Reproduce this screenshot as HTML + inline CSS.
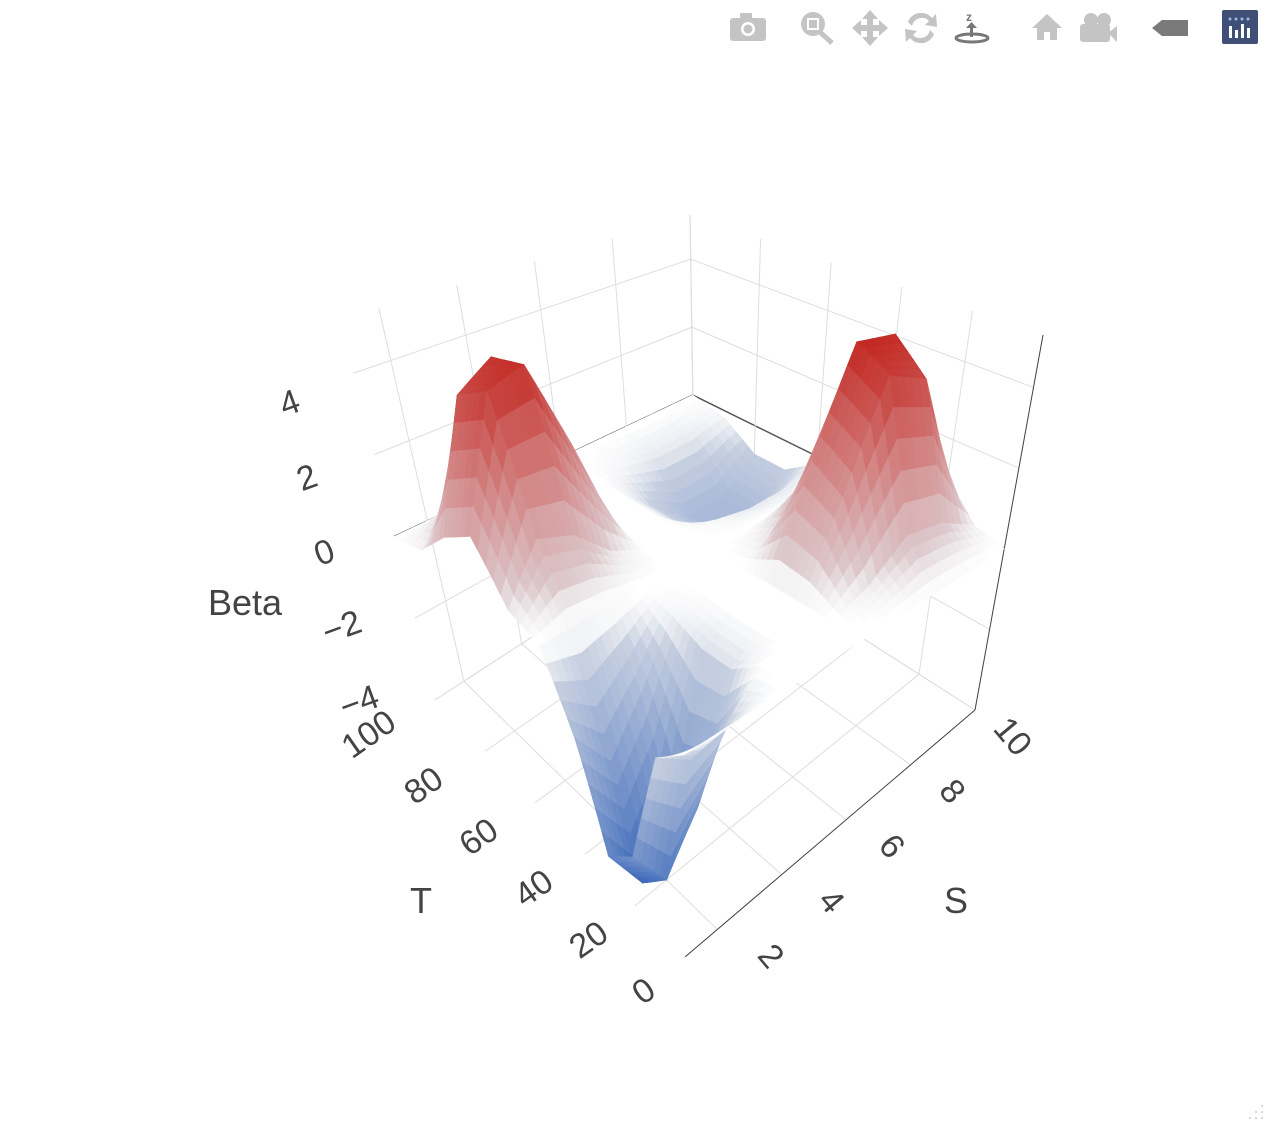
<!DOCTYPE html>
<html><head><meta charset="utf-8"><style>
body{margin:0;background:#fff;width:1268px;height:1122px;overflow:hidden;font-family:"Liberation Sans",sans-serif}
svg{position:absolute;left:0;top:0}
</style></head><body>
<svg width="1268" height="1122">
<g fill="#c4c4c4">
 <g><rect x="730" y="18" width="36" height="23" rx="3"/><rect x="740" y="13" width="12" height="6"/><circle cx="748" cy="29" r="7" fill="#fff"/><circle cx="748" cy="29" r="4.5"/></g>
 <g><circle cx="813" cy="24" r="12"/><rect x="807" y="18" width="12" height="12" fill="#fff"/><rect x="809" y="20" width="8" height="8"/><path d="M820 32 L832 43" stroke="#c4c4c4" stroke-width="5"/></g>
 <g><path d="M870 10 L878 19 L873 19 L873 25 L879 25 L879 20 L888 28 L879 36 L879 31 L873 31 L873 37 L878 37 L870 46 L862 37 L867 37 L867 31 L861 31 L861 36 L852 28 L861 20 L861 25 L867 25 L867 19 L862 19Z"/></g>
 <g><path d="M908 22 A14 14 0 0 1 932 18 L936 14 L937 27 L925 25 L929 21 A10 10 0 0 0 912 26Z"/><path d="M934 34 A14 14 0 0 1 910 38 L906 42 L905 29 L917 31 L913 35 A10 10 0 0 0 930 30Z"/></g>
 <g fill="#777"><text x="966" y="21" font-size="12" font-weight="bold">z</text><rect x="970" y="25" width="3" height="12"/><path d="M966 28 L971.5 22 L977 28Z"/><ellipse cx="972" cy="38" rx="16" ry="4" fill="none" stroke="#777" stroke-width="3"/></g>
 <g><path d="M1032 28 L1047 14 L1062 28 L1057 28 L1057 40 L1050 40 L1050 32 L1044 32 L1044 40 L1037 40 L1037 28Z"/></g>
 <g><circle cx="1091" cy="20" r="7"/><circle cx="1104" cy="20" r="7"/><rect x="1080" y="24" width="30" height="18" rx="3"/><path d="M1108 33 L1117 26 L1117 42Z"/></g>
 <g fill="#7a7a7a"><path d="M1152 28 L1162 20 L1188 20 L1188 36 L1162 36Z"/></g>
 <g><rect x="1222" y="10" width="36" height="34" rx="2" fill="#3f4f75"/><g fill="#fff"><rect x="1229" y="26" width="3" height="12"/><rect x="1235" y="30" width="3" height="8"/><rect x="1241" y="24" width="3" height="14"/><rect x="1247" y="28" width="3" height="10"/></g><g fill="#9bd"><circle cx="1230" cy="19" r="1.5"/><circle cx="1236" cy="19" r="1.5"/><circle cx="1242" cy="19" r="1.5"/><circle cx="1248" cy="19" r="1.5"/></g></g>
</g>
<g id="grid"></g>
<g id="surf"></g>
<g id="labels" font-size="34" fill="#444"></g>
<text x="208" y="615" font-size="36" fill="#444">Beta</text>
<text x="410" y="913" font-size="36" fill="#444">T</text>
<text x="944" y="913" font-size="36" fill="#444">S</text>
<g fill="#ccc"><circle cx="1262" cy="1118" r="1"/><circle cx="1256" cy="1118" r="1"/><circle cx="1250" cy="1118" r="1"/><circle cx="1262" cy="1112" r="1"/><circle cx="1256" cy="1112" r="1"/><circle cx="1262" cy="1106" r="1"/></g>
</svg>
<script>
const sValues=[1,2,3,4,5,6,7,8,9,10];
const tValues=[0,10,20,30,40,50,60,70,80,90,100];
const betaRows=[
[0,0,0,0,0,0,0,0,0,0],
[-0.5,-1,-0.8,0,0,0,0.3,1,0.8,0.2],
[-3,-4,-3,-0.5,0,0,2,4.5,4,1],
[-3.5,-4.6,-3.5,-0.5,0,0,2.5,5,4.8,1.5],
[-1.5,-2.5,-1.5,-0.2,0,0,0.5,1.5,1.2,0.3],
[0,0,0,0,0,0,0,0,0,0],
[0.3,1.5,1.2,0.4,0,0,-0.2,-0.4,-0.4,-0.2],
[1.5,4.5,4.8,2.5,0,0,-0.8,-1.5,-1.5,-0.8],
[1,4,4.6,2,0,0,-0.8,-1.5,-1.5,-0.8],
[0.2,0.8,1,0.3,0,0,-0.2,-0.4,-0.4,-0.2],
[0,0,0,0,0,0,0,0,0,0]];
const sTicks=[2,4,6,8,10];
const tTicks=[0,20,40,60,80,100];
const zTicks=[-4,-2,0,2,4];
const zTickLabels=["\u22124","\u22122","0","2","4"];

const S0=1,S1=10,T0=0,T1=100,Z0=-4,Z1=5.3;
const B={f:[685,957],r:[975,710],l:[435,700],b:[695,531]};
const U={f:[683,487],r:[1043,335],l:[340,320],b:[690,215]};
function bil(C,u,v,i){return (1-u)*(1-v)*C.f[i]+u*(1-v)*C.r[i]+(1-u)*v*C.l[i]+u*v*C.b[i];}
function P(s,t,z){const u=(s-S0)/(S1-S0),v=(t-T0)/(T1-T0),w=(z-Z0)/(Z1-Z0);
 return [0,1].map(i=>bil(B,u,v,i)*(1-w)+bil(U,u,v,i)*w);}
const NS="http://www.w3.org/2000/svg";
function line(g,a,b,col,wd,name){const e=document.createElementNS(NS,'line');
 e.setAttribute('x1',a[0]);e.setAttribute('y1',a[1]);e.setAttribute('x2',b[0]);e.setAttribute('y2',b[1]);
 e.setAttribute('stroke',col);e.setAttribute('stroke-width',wd);
 
 
 g.appendChild(e);}
const G=document.getElementById('grid');
zTicks.forEach(z=>{const c=z===0?'#555':'#ddd';const w=z===0?1.5:1;
 line(G,P(S0,T1,z),P(S1,T1,z),c,w,'z-gridline');line(G,P(S1,T1,z),P(S1,T0,z),c,w,'z-gridline');});
sTicks.forEach(s=>{line(G,P(s,T1,Z0),P(s,T1,Z1),'#ddd',1,'s-gridline');line(G,P(s,T0,Z0),P(s,T1,Z0),'#ddd',1,'s-gridline');});
tTicks.forEach(t=>{line(G,P(S1,t,Z0),P(S1,t,Z1),'#ddd',1,'t-gridline');line(G,P(S0,t,Z0),P(S1,t,Z0),'#ddd',1,'t-gridline');});
line(G,P(S1,T1,Z0),P(S1,T1,Z1),'#ddd',1,'back-edge');
line(G,P(S0,T0,Z0),P(S1,T0,Z0),'#444',1,'s-axis-line');
line(G,P(S1,T0,Z0),P(S1,T0,Z1),'#444',1,'z-axis-line');
function col(z){const g=[225,227,232];let a,t;
 if(Math.abs(z)<0.05)return null;
 const k=Math.min(1,Math.abs(z)/0.7);
 if(z<0){a=[60,105,185];t=Math.min(1,-z/4.5);}else{a=[195,38,32];t=Math.min(1,z/5);}
 let c=g.map((v,i)=>v+(a[i]-v)*t);c=c.map(v=>255+(v-255)*k);
 return 'rgb('+c.map(Math.round).join(',')+')';}
function zAt(i,j,a,b){const z00=betaRows[j][i],z10=betaRows[j][i+1],z01=betaRows[j+1][i],z11=betaRows[j+1][i+1];
 return (1-a)*(1-b)*z00+a*(1-b)*z10+(1-a)*b*z01+a*b*z11;}
const quads=[];const N=5;
for(let j=0;j<tValues.length-1;j++)for(let i=0;i<sValues.length-1;i++)for(let q=0;q<N;q++)for(let p=0;p<N;p++){
 const a0=p/N,a1=(p+1)/N,b0=q/N,b1=(q+1)/N;
 const sA=sValues[i]+(sValues[i+1]-sValues[i])*a0,sB=sValues[i]+(sValues[i+1]-sValues[i])*a1;
 const tA=tValues[j]+(tValues[j+1]-tValues[j])*b0,tB=tValues[j]+(tValues[j+1]-tValues[j])*b1;
 const zs=[zAt(i,j,a0,b0),zAt(i,j,a1,b0),zAt(i,j,a1,b1),zAt(i,j,a0,b1)];
 const pts=[P(sA,tA,zs[0]),P(sB,tA,zs[1]),P(sB,tB,zs[2]),P(sA,tB,zs[3])];
 const zm=(zs[0]+zs[1]+zs[2]+zs[3])/4;
 const depth=(sA+sB)/2/(S1-S0)+(tA+tB)/2/(T1-T0);
 quads.push({pts,zm,depth});}
quads.sort((x,y)=>y.depth-x.depth);
const SG=document.getElementById('surf');
quads.forEach(qd=>{const c=col(qd.zm)||'#fff';const e=document.createElementNS(NS,'polygon');
 e.setAttribute('points',qd.pts.map(p=>p[0].toFixed(1)+','+p[1].toFixed(1)).join(' '));
 e.setAttribute('fill',c);e.setAttribute('stroke',c);e.setAttribute('stroke-width','0.6');
 
 
 SG.appendChild(e);});
const L=document.getElementById('labels');
function lab(txt,p,dx,dy,rot,name){const e=document.createElementNS(NS,'text');
 const x=p[0]+dx,y=p[1]+dy;e.setAttribute('x',x);e.setAttribute('y',y);e.setAttribute('text-anchor','middle');
 e.setAttribute('dominant-baseline','middle');e.setAttribute('transform','rotate('+rot+' '+x+' '+y+')');
 e.textContent=txt;
 
 
 L.appendChild(e);}
tTicks.forEach(t=>lab(String(t),P(S0,t,Z0),-40-t*0.25,36,-35,'t-tick-label'));
sTicks.forEach(s=>lab(String(s),P(s,T0,Z0),56-s*2,28,50,'s-tick-label'));
zTicks.forEach((z,k)=>lab(zTickLabels[k],P(S0,T1,z),-63-(4-z)*1.5,32-(4-z)*3.5,-20,'z-tick-label'));
</script>
</body></html>
